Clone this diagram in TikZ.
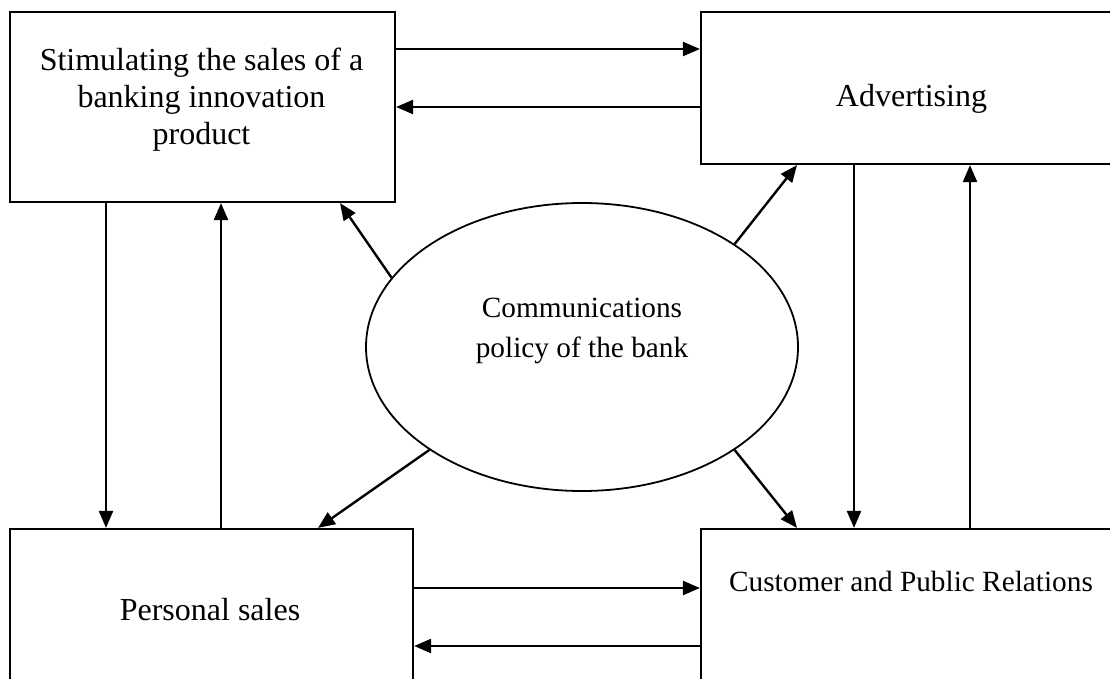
\documentclass[tikz,border=0pt]{standalone}
\usepackage{fontspec}
\setmainfont{Liberation Serif}
\usetikzlibrary{arrows.meta,shapes.geometric}
\begin{document}
\begin{tikzpicture}[x=1pt,y=-1pt,
  box/.style={draw, line width=2.2pt, rectangle, inner sep=0pt},
  arr/.style={line width=2.4pt, -{Triangle[length=17pt,width=14pt]}},
  big/.style={font=\fontsize{32}{37}\selectfont, inner sep=0pt},
  small/.style={font=\fontsize{29.3}{40}\selectfont, inner sep=0pt}]
\useasboundingbox (0,0) rectangle (1110,679);
\clip (0,0) rectangle (1110,679);
% boxes
\node[box, minimum width=385pt, minimum height=190pt] (tl) at (202.5,107) {};
\node[box, minimum width=420pt, minimum height=152pt] (tr) at (911,88) {};
\node[box, minimum width=403pt, minimum height=191pt] (bl) at (211.5,624.5) {};
\node[box, minimum width=420pt, minimum height=191pt] (br) at (911,624.5) {};
\node[draw, ellipse, line width=1.8pt, minimum width=432pt, minimum height=288pt, inner sep=0pt] (ell) at (582,347) {};
% texts
\node[big, anchor=north, align=center] (tlt) at (201.5,48) {Stimulating the sales of a\\banking innovation\\product};
\node[big, anchor=base] (trt) at (911.5,107) {Advertising};
\node[big, anchor=base] (blt) at (210,620) {Personal sales};
\node[small, anchor=base] (brt) at (911,591) {Customer and Public Relations};
\node[small, anchor=north, align=center] (elt) at (582,298) {Communications\\policy of the bank};
% helper coordinates
\coordinate (h1) at (0,49);
\coordinate (h2) at (0,107);
\coordinate (h3) at (0,588);
\coordinate (h4) at (0,646);
\coordinate (v1) at (106,0);
\coordinate (v2) at (221,0);
\coordinate (v3) at (854,0);
\coordinate (v4) at (970,0);
\coordinate (d1) at (340,0);
\coordinate (d2) at (797,0);
\coordinate (d3) at (318,0);
\coordinate (d4) at (797,0);
% horizontal arrows
\draw[arr] (tl.east |- h1) -- (tr.west |- h1);
\draw[arr] (tr.west |- h2) -- (tl.east |- h2);
\draw[arr] (bl.east |- h3) -- (br.west |- h3);
\draw[arr] (br.west |- h4) -- (bl.east |- h4);
% vertical arrows
\draw[arr] (tl.south -| v1) -- (bl.north -| v1);
\draw[arr] (bl.north -| v2) -- (tl.south -| v2);
\draw[arr] (tr.south -| v3) -- (br.north -| v3);
\draw[arr] (br.north -| v4) -- (tr.south -| v4);
% ellipse arrows
\draw[arr] (ell.160) -- (tl.south -| d1);
\draw[arr] (ell.34) -- (tr.south -| d2);
\draw[arr] (ell.214) -- (bl.north -| d3);
\draw[arr] (ell.326) -- (br.north -| d4);
\end{tikzpicture}
\end{document}
